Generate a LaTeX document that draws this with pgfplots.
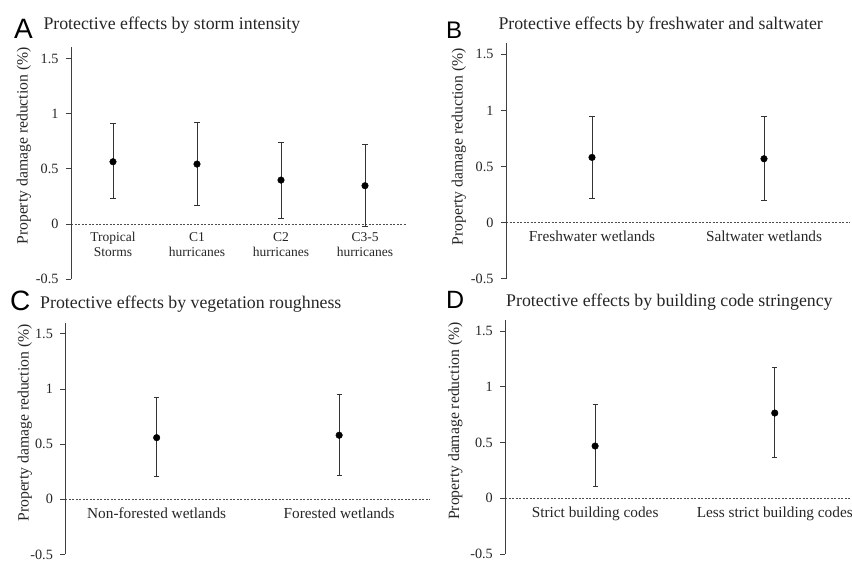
\documentclass[border=0pt]{standalone}
\usepackage{fontspec}
\setmainfont{Liberation Serif}
\newfontfamily\sansf{Liberation Sans}
\usepackage{pgfplots}
\pgfplotsset{compat=1.18}

\pgfplotsset{
  panel/.style={
    scale only axis,
    anchor=south west,
    axis y line*=left,
    axis x line*=middle,
    ymin=-0.5, ymax=1.6,
    ytick={-0.5,0,0.5,1,1.5},
    yticklabels={-0.5,0,0.5,1,1.5},
    xmin=-0.5,
    xtick=data,
    tick align=outside,
    y axis line style={draw=black!75, line width=0.9pt, -},
    x axis line style={draw=black!70, dash pattern=on 2pt off 1.5pt, line width=0.8pt, -},
    ytick style={draw=black!75, line width=0.9pt},
    major tick length=5pt,
    xtick style={draw=none},
    yticklabel style={font=\fontsize{14.2}{15}\selectfont, text=black!85, inner ysep=0pt, xshift=-4pt},
    xticklabel style={font=\fontsize{15.3}{15}\selectfont, align=center, text=black!85},
    ylabel={Property damage reduction (\%)},
    ylabel style={font=\fontsize{15.7}{17}\selectfont, anchor=center, text=black!85},
    clip=false,
  },
  eb/.style={only marks, mark=*, mark size=3.3pt, color=black, mark options={fill=black, draw=black},
    error bars/.cd, y dir=both, y explicit,
    error bar style={line width=1pt, color=black!80},
    error mark options={rotate=90, black!80, mark size=2.6pt, line width=1pt}},
}

\begin{document}
\begin{tikzpicture}
\useasboundingbox (0,0) rectangle (852pt,-561pt);

% Panel A
\begin{axis}[panel, at={(71pt,-279.2pt)}, width=336pt, height=231.8pt,
  xmax=3.5,
  xticklabels={{Tropical\\Storms},{C1\\hurricanes},{C2\\hurricanes},{C3-5\\hurricanes}},
  xticklabel style={font=\fontsize{13.5}{15}\selectfont},
  ylabel style={at={(axis description cs:-0.14,0.575)}}]
\addplot[eb] coordinates {
  (0,0.564) += (0,0.351) -= (0,0.332)
  (1,0.543) += (0,0.377) -= (0,0.371)
  (2,0.398) += (0,0.342) -= (0,0.344)
  (3,0.347) += (0,0.373) -= (0,0.374)
};
\end{axis}

% Panel B
\begin{axis}[panel, at={(506pt,-278.9pt)}, width=344pt, height=236pt,
  xmax=1.5,
  xticklabels={{Freshwater wetlands},{Saltwater wetlands}},
  ylabel style={at={(axis description cs:-0.137,0.56)}}]
\addplot[eb] coordinates {
  (0,0.581) += (0,0.365) -= (0,0.365)
  (1,0.569) += (0,0.374) -= (0,0.370)
};
\end{axis}

% Panel C
\begin{axis}[panel, at={(65.4pt,-554.4pt)}, width=365pt, height=231.5pt,
  xmax=1.5,
  xticklabels={{Non-forested wetlands},{Forested wetlands}},
  ylabel style={at={(axis description cs:-0.111,0.568)}}]
\addplot[eb] coordinates {
  (0,0.559) += (0,0.366) -= (0,0.353)
  (1,0.581) += (0,0.372) -= (0,0.366)
};
\end{axis}

% Panel D
\begin{axis}[panel, at={(505.3pt,-554pt)}, width=346.7pt, height=234pt,
  xmax=1.43,
  xticklabels={{Strict building codes},{Less strict building codes}},
  ylabel style={at={(axis description cs:-0.144,0.568)}}]
\addplot[eb] coordinates {
  (0,0.469) += (0,0.374) -= (0,0.367)
  (1,0.765) += (0,0.412) -= (0,0.400)
};
\end{axis}

% Panel letters and titles
\node[anchor=base west, inner sep=0pt, font=\sansf\fontsize{28}{28}\selectfont] at (14pt,-38.3pt) {A};
\node[anchor=base west, inner sep=0pt, font=\sansf\fontsize{24}{24}\selectfont] at (446pt,-38.3pt) {B};
\node[anchor=base west, inner sep=0pt, font=\sansf\fontsize{28}{28}\selectfont] at (10pt,-311pt) {C};
\node[anchor=base west, inner sep=0pt, font=\sansf\fontsize{25}{25}\selectfont] at (446pt,-308.3pt) {D};

\node[anchor=base west, inner sep=0pt, font=\fontsize{17.8}{20}\selectfont, text=black!85] at (43.3pt,-29.3pt) {Protective effects by storm intensity};
\node[anchor=base west, inner sep=0pt, font=\fontsize{17.8}{20}\selectfont, text=black!85] at (498.3pt,-29.3pt) {Protective effects by freshwater and saltwater};
\node[anchor=base west, inner sep=0pt, font=\fontsize{17.8}{20}\selectfont, text=black!85] at (40pt,-308.3pt) {Protective effects by vegetation roughness};
\node[anchor=base west, inner sep=0pt, font=\fontsize{17.8}{20}\selectfont, text=black!85] at (506pt,-306.5pt) {Protective effects by building code stringency};
\end{tikzpicture}
\end{document}
